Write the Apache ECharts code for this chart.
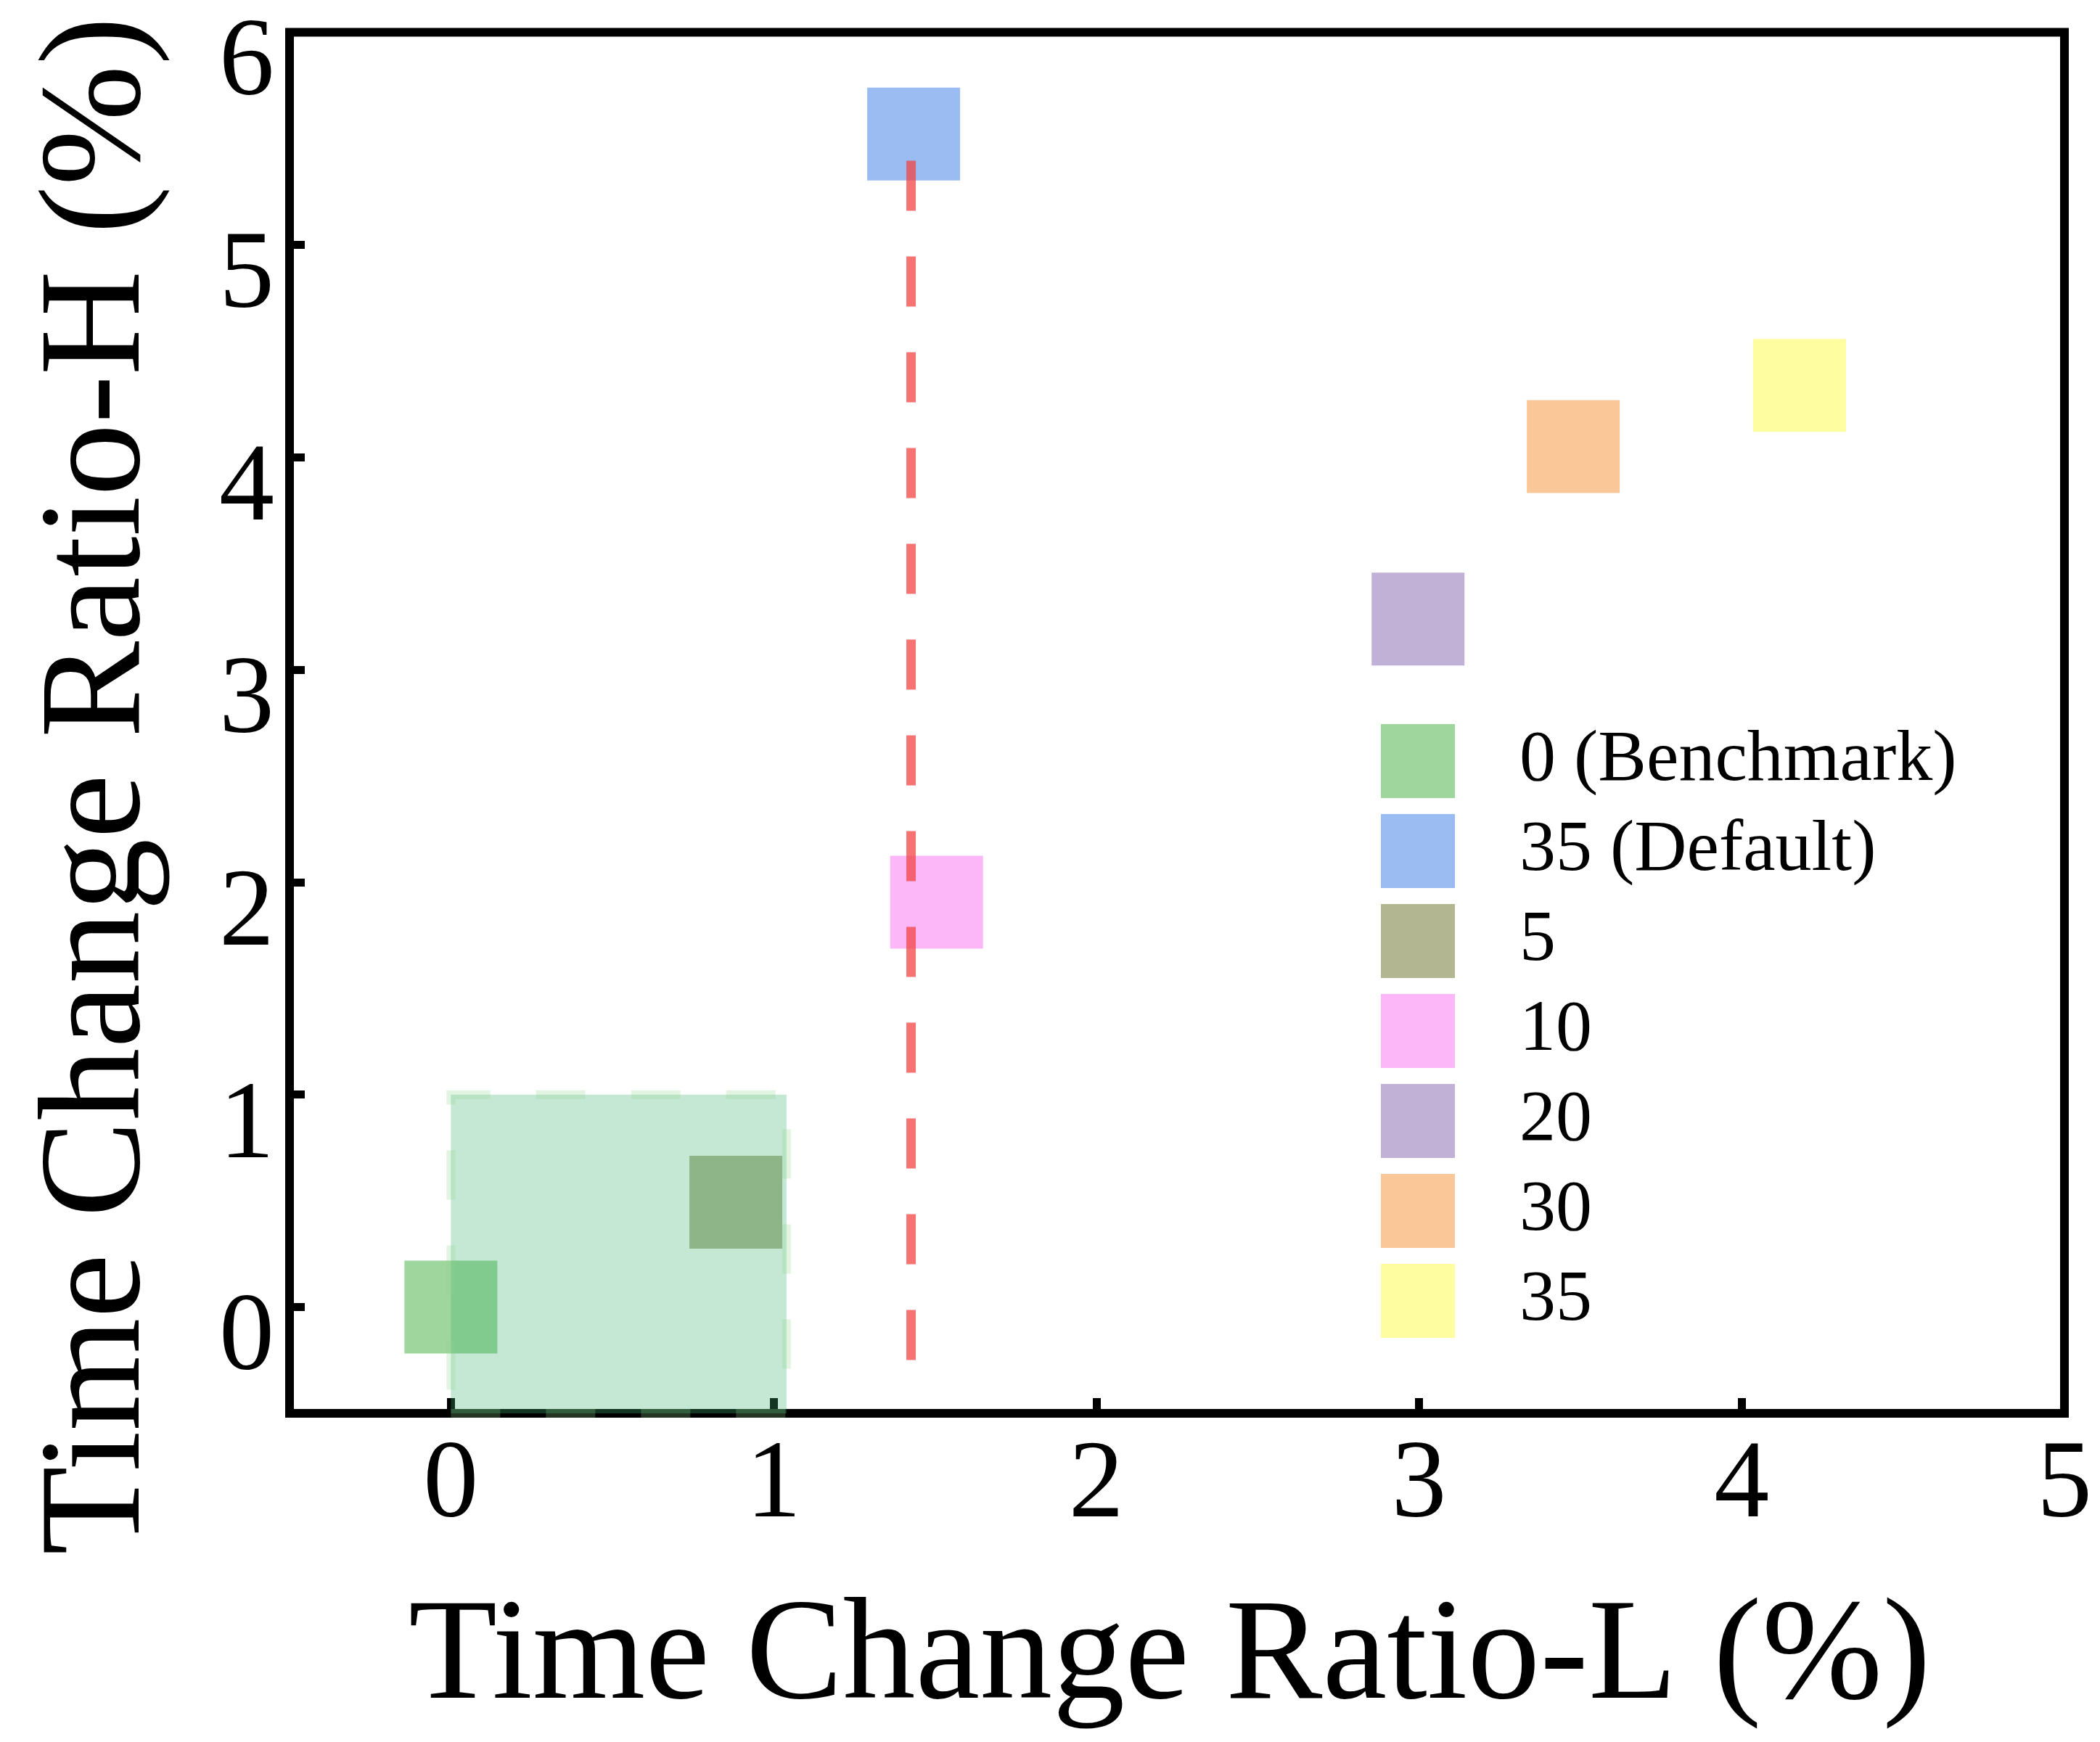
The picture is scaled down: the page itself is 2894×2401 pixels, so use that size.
<!DOCTYPE html>
<html>
<head>
<meta charset="utf-8">
<script src="https://cdn.jsdelivr.net/npm/echarts@6/dist/echarts.min.js"></script>
<style>
html,body{margin:0;padding:0;background:#fff;}
#c{width:2894px;height:2401px;}
</style>
</head>
<body>
<div id="c"></div>
<script>
// ---- data ----
const seriesNames = ['0 (Benchmark)', '35 (Default)', '5', '10', '20', '30', '35'];
const xValues = [0.0, 1.434, 0.883, 1.505, 2.997, 3.478, 4.179];
const yValues = [0.0, 5.521, 0.494, 1.906, 3.238, 4.05, 4.338];
const colors = ['#9FD69D', '#9BBBF3', '#B2B791', '#FCB7F8', '#C2B1D6', '#FAC898', '#FEFDA0'];
const benchmarkBox = [0, -0.5, 1.04, 1.0];          // x0, y0, x1, y1
const refLineX = [1.426, 1.426];
const refLineY = [5.396, -0.455];
const xTicks = [0, 1, 2, 3, 4, 5];
const yTicks = [0, 1, 2, 3, 4, 5, 6];
const xName = 'Time Change Ratio-L (%)';
const yName = 'Time Change Ratio-H (%)';

const FONT = '"Liberation Serif", "Times New Roman", serif';

const chart = echarts.init(document.getElementById('c'), null, {renderer: 'canvas'});

const scatterSeries = seriesNames.map((n, i) => ({
  name: n,
  type: 'scatter',
  symbol: 'rect',
  symbolSize: 128,
  z: 2,
  itemStyle: {color: colors[i], opacity: 1},
  emphasis: {disabled: true},
  data: [[xValues[i], yValues[i]]]
}));

const option = {
  animation: false,
  backgroundColor: '#fff',
  grid: {
    left: 399, right: 49, top: 44.5, bottom: 453,
    containLabel: false,
    outerBoundsMode: 'none',
    show: true, borderColor: '#000', borderWidth: 12, backgroundColor: 'transparent'
  },
  xAxis: {
    type: 'value', min: -0.5, max: 5, minInterval: 1, maxInterval: 1, splitNumber: 5,
    axisLine: {show: false, onZero: false},
    splitLine: {show: false},
    axisTick: {show: true, inside: true, length: 21, lineStyle: {color: '#000', width: 11}},
    axisLabel: {
      margin: 26, fontSize: 152, fontFamily: FONT, color: '#000',
      showMinLabel: true, showMaxLabel: true,
      formatter: v => (xTicks.indexOf(v) >= 0 ? String(v) : '')
    }
  },
  yAxis: {
    type: 'value', min: -0.5, max: 6, minInterval: 1, maxInterval: 1, splitNumber: 6,
    axisLine: {show: false, onZero: false},
    splitLine: {show: false},
    axisTick: {show: true, inside: true, length: 21, lineStyle: {color: '#000', width: 11}},
    axisLabel: {
      margin: 21, fontSize: 152, fontFamily: FONT, color: '#000',
      verticalAlign: 'top', lineHeight: 92,
      showMinLabel: true, showMaxLabel: true,
      formatter: v => (yTicks.indexOf(v) >= 0 ? String(v) : '')
    }
  },
  legend: {
    data: seriesNames,
    orient: 'vertical',
    left: 1903, top: 998,
    padding: 0,
    icon: 'rect',
    itemWidth: 102, itemHeight: 102, itemGap: 22,
    selectedMode: false,
    textStyle: {fontSize: 100, fontFamily: FONT, color: '#000', padding: [0, 0, 0, 84]}
  },
  graphic: [
    {
      type: 'text', x: 1612, y: 2287, z: 10,
      style: {text: xName, font: '200px "Liberation Serif"', fill: '#000', align: 'center', verticalAlign: 'middle'}
    },
    {
      type: 'text', x: 138, y: 1083, rotation: Math.PI / 2, z: 10,
      style: {text: yName, font: '200px "Liberation Serif"', fill: '#000', align: 'center', verticalAlign: 'middle'}
    }
  ],
  series: scatterSeries.concat([
    {
      name: 'benchmarkBox',
      type: 'custom',
      z: 3,
      silent: true,
      data: [benchmarkBox],
      renderItem: function (params, api) {
        const p0 = api.coord([api.value(0), api.value(1)]);
        const p1 = api.coord([api.value(2), api.value(3)]);
        return {
          type: 'polygon',
          shape: {points: [[p0[0], p0[1]], [p1[0], p0[1]], [p1[0], p1[1]], [p0[0], p1[1]]]},
          style: {
            fill: 'rgba(60,179,113,0.3)',
            stroke: 'rgba(144,210,140,0.25)',
            lineWidth: 12,
            lineDash: [68, 63]
          }
        };
      }
    },
    {
      name: 'refLine',
      type: 'line',
      z: 4,
      silent: true,
      symbol: 'none',
      lineStyle: {color: 'rgba(242,68,68,0.75)', width: 13, type: [69, 63], cap: 'butt'},
      data: refLineX.map((x, i) => [x, refLineY[i]])
    }
  ])
};

chart.setOption(option);
</script>
</body>
</html>
